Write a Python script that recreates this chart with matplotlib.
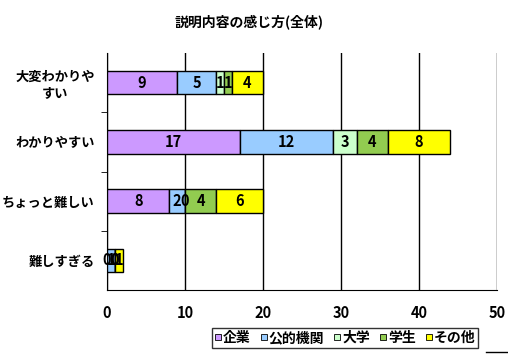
import numpy as np
import matplotlib
matplotlib.use("Agg")
import matplotlib.pyplot as plt
from matplotlib.lines import Line2D

plt.rcParams['font.family'] = ['Noto Sans CJK JP', 'DejaVu Sans']

categories = ["大変わかりや\nすい", "わかりやすい", "ちょっと難しい", "難しすぎる"]
series = ["企業", "公的機関", "大学", "学生", "その他"]
kigyo = [9, 17, 8, 0]
koteki = [5, 12, 2, 1]
daigaku = [1, 3, 0, 0]
gakusei = [1, 4, 4, 0]
sonota = [4, 8, 6, 1]
colors = ["#CC99FF", "#99CCFF", "#CCFFCC", "#92CC50", "#FFFF00"]

fig = plt.figure(figsize=(5.08, 3.54), dpi=100)
ax = fig.add_axes([107/508, 1-290/354, 390/508, 237/354])

y = np.arange(len(categories))
left = np.zeros(len(categories))
for name, vals, c in zip(series, [kigyo, koteki, daigaku, gakusei, sonota], colors):
    vals = np.array(vals, float)
    ax.barh(y, vals, left=left, height=0.4, color=c, edgecolor="black", lw=1, label=name, zorder=3)
    for yi, (l, v) in enumerate(zip(left, vals)):
        ax.text(l+v/2, yi, f"{int(v)}", ha="center", va="center", fontsize=10.5, fontweight="bold", zorder=4)
    left += vals

ax.set_xlim(0, 50); ax.set_ylim(3.5, -0.5)
ax.set_xticks([0, 10, 20, 30, 40, 50])
ax.xaxis.grid(True, color="black", lw=1)
ax.set_axisbelow(True)
ax.tick_params(axis="x", length=0, pad=11, labelsize=10.5)
for t in ax.get_xticklabels(): t.set_fontweight("bold")
ax.set_yticks(y); ax.set_yticklabels(categories, fontsize=9.5, fontweight="bold", ha="right", multialignment="center")
ax.tick_params(axis="y", length=0, pad=9)
ax.set_yticks([0.5, 1.5, 2.5], minor=True)
ax.tick_params(axis="y", which="minor", length=4, direction="out")
for s in ["top", "right"]: ax.spines[s].set_visible(False)
for s in ["left", "bottom"]: ax.spines[s].set_color("black")

fig.text(0.49, 1-22/354, "説明内容の感じ方(全体)", ha="center", va="center", fontsize=10, fontweight="bold")

handles = [Line2D([], [], marker="s", ls="none", markersize=5, markerfacecolor=c, markeredgecolor="black", markeredgewidth=0.6) for c in colors]
leg = fig.legend(handles, series, loc="center", bbox_to_anchor=(345/508, 1-338/354), ncol=5,
                 prop={"size": 10, "weight": "bold"},
                 frameon=True, fancybox=False, handlelength=0.5, handletextpad=0.1, columnspacing=0.7, borderpad=0.2)
leg.get_frame().set_edgecolor("black"); leg.get_frame().set_linewidth(1)
fig.add_artist(Line2D([486/508, 508/508], [1-352/354, 1-352/354], color="black", lw=1))

fig.savefig("out.png", dpi=100)
